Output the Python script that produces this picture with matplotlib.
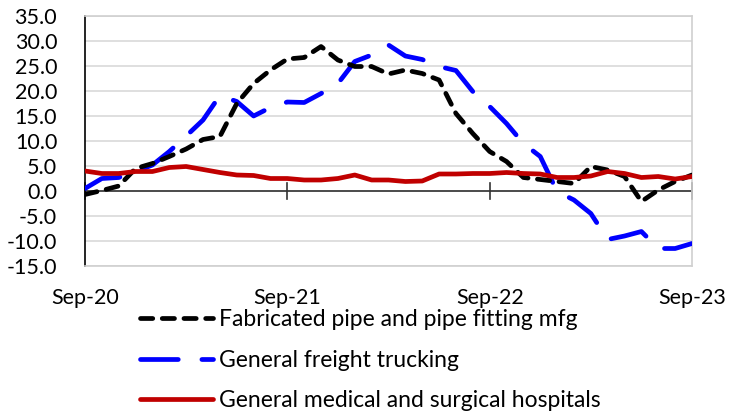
import numpy as np
import matplotlib
matplotlib.use("Agg")
import matplotlib.pyplot as plt
import matplotlib.transforms as mtransforms

plt.rcParams['font.family'] = ['Lato', 'DejaVu Sans']

# monthly values, Sep-20 .. Sep-23 (37 months)
months = np.arange(37)
tick_months = [0, 12, 24, 36]
tick_labels = ["Sep-20", "Sep-21", "Sep-22", "Sep-23"]

pipe = [-0.7, 0.1, 1.0, 4.5, 5.5, 6.9, 8.4, 10.3, 10.9, 17.5,
        21.5, 24.2, 26.4, 26.7, 28.9, 26.2, 24.9, 24.9, 23.4, 24.2,
        23.5, 22.2, 15.5, 11.5, 7.9, 5.9, 2.7, 2.3, 1.9, 1.5,
        4.9, 4.2, 2.9, -2.1, 0.2, 1.9, 3.2]
trucking = [0.5, 2.5, 2.7, 3.9, 5.2, 7.9, 11.0, 14.2, 19.1, 17.9,
            15.0, 16.7, 17.8, 17.7, 19.5, 21.5, 25.9, 27.2, 29.2, 27.0,
            26.3, 24.9, 24.1, 19.9, 16.9, 13.5, 9.5, 6.9, -0.1, -1.8,
            -4.5, -9.7, -9.0, -8.1, -11.5, -11.5, -10.5]
hospitals = [4.0, 3.5, 3.5, 3.9, 3.9, 4.7, 4.9, 4.3, 3.7, 3.2,
             3.1, 2.5, 2.5, 2.2, 2.2, 2.5, 3.2, 2.2, 2.2, 1.9,
             2.0, 3.4, 3.4, 3.5, 3.5, 3.7, 3.5, 3.4, 2.7, 2.7,
             3.0, 3.9, 3.5, 2.7, 2.9, 2.4, 2.9]

labels = ["Fabricated pipe and pipe fitting mfg",
          "General freight trucking",
          "General medical and surgical hospitals"]

fig = plt.figure(figsize=(7.37, 4.13), dpi=100)
ax = fig.add_axes([85/737, 147/413, 607/737, 250/413])

lw = 3.4
l1, = ax.plot(months, pipe, color='black', lw=lw, dashes=(2.6, 2.0),
              dash_capstyle='round', zorder=4, label=labels[0])
l2, = ax.plot(months, trucking, color='#0000ff', lw=lw, dashes=(8.0, 5.0),
              dash_capstyle='round', zorder=3, label=labels[1])
l3, = ax.plot(months, hospitals, color='#c00000', lw=lw,
              solid_capstyle='round', zorder=5, label=labels[2])

ax.set_xlim(0, 36)
ax.set_ylim(-15, 35)
ax.set_yticks(np.arange(-15, 36, 5))
ax.set_yticklabels(["%.1f" % v for v in np.arange(-15, 36, 5)])
ax.tick_params(axis='y', length=0, pad=20, labelsize=15.5)
ax.grid(axis='y', color='#d9d9d9', lw=1.2)
ax.set_axisbelow(True)

for s in ['top', 'right', 'bottom']:
    ax.spines[s].set_color('#d0d0d0')
    ax.spines[s].set_linewidth(1.2)
ax.spines['left'].set_color('black')
ax.spines['left'].set_linewidth(1.2)

# zero axis with crossing ticks
ax.axhline(0, color='#333333', lw=1.2, zorder=2)
ax.set_xticks([])
for m in tick_months:
    ax.plot([m, m], [-1.6, 1.6], color='#333333', lw=1.2, zorder=2,
            clip_on=False)

trans = mtransforms.blended_transform_factory(ax.transData, ax.transAxes)
for m, t in zip(tick_months, tick_labels):
    ax.text(m, -0.128, t, transform=trans, ha='center', va='center',
            fontsize=15.5)

fig.legend(handles=[l1, l2, l3], loc='upper left',
           bbox_to_anchor=(140/737, 1 - 309/413), frameon=False,
           fontsize=16.5, handlelength=3.2, handletextpad=0.25,
           labelspacing=0.86, borderpad=0, borderaxespad=0)

fig.savefig("out.png", dpi=100)
